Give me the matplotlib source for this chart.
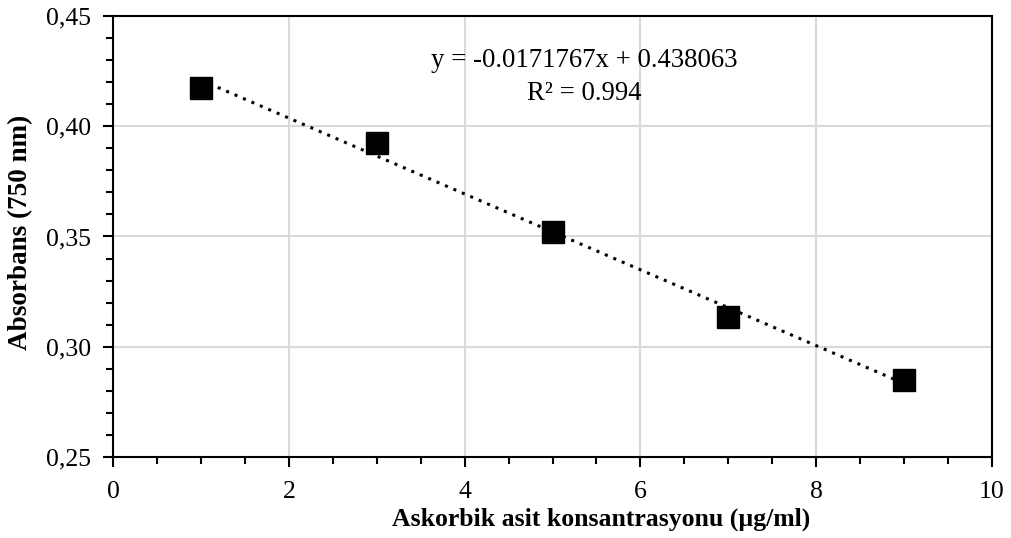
import numpy as np
import matplotlib.pyplot as plt
from matplotlib.ticker import MultipleLocator, FuncFormatter

conc = [1, 3, 5, 7, 9]
absorbance = [0.4175, 0.3925, 0.352, 0.3135, 0.285]
eq_lines = ["y = -0.0171767x + 0.438063", "R² = 0.994"]

plt.rcParams['font.family'] = ['Liberation Serif', 'DejaVu Serif']

fig = plt.figure(figsize=(10.11, 5.38), dpi=100)
ax = fig.add_axes([0.1118, 0.1506, 0.8694, 0.8197])

# linear trendline
m, b = np.polyfit(conc, absorbance, 1)
xs = np.array([conc[0], conc[-1]])
ax.plot(xs, m * xs + b, color='black', linestyle=(0, (1, 2)), linewidth=2.2, zorder=3)
ax.plot(conc, absorbance, 's', color='black', markersize=16.5, zorder=4)

ax.set_xlim(0, 10)
ax.set_ylim(0.25, 0.45)
ax.xaxis.set_major_locator(MultipleLocator(2))
ax.xaxis.set_minor_locator(MultipleLocator(0.5))
ax.yaxis.set_major_locator(MultipleLocator(0.05))
ax.yaxis.set_minor_locator(MultipleLocator(0.01))
ax.yaxis.set_major_formatter(FuncFormatter(lambda v, p: f"{v:.2f}".replace('.', ',')))
ax.grid(True, which='major', color='#d9d9d9', linewidth=1.5, zorder=0)
ax.set_axisbelow(True)

for s in ax.spines.values():
    s.set_linewidth(1.5)
ax.tick_params(which='major', direction='out', length=7, width=1.5, labelsize=18.5)
ax.tick_params(axis='x', which='major', pad=10)
ax.tick_params(axis='y', which='major', pad=9)
ax.tick_params(which='minor', direction='out', length=5, width=1.5)

ax.set_xlabel('Askorbik asit konsantrasyonu (µg/ml)', fontsize=18.5, fontweight='bold')
ax.xaxis.set_label_coords(0.555, -0.114)
ax.set_ylabel('Absorbans (750 nm)', fontsize=19.5, fontweight='bold')
ax.yaxis.set_label_coords(-0.091, 0.51)

ax.text(5.36, 0.4269, eq_lines[0], ha='center', va='baseline', fontsize=19.3)
ax.text(5.36, 0.4119, eq_lines[1], ha='center', va='baseline', fontsize=19.3)

fig.savefig('out.png', dpi=100)
